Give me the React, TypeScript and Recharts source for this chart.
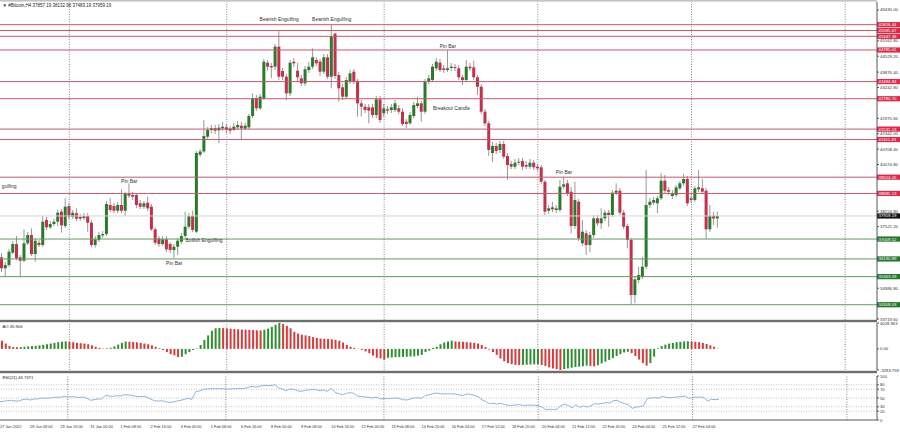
import React from 'react'
import { ComposedChart, Bar, Line, XAxis, YAxis, ReferenceLine, ReferenceDot, Cell } from 'recharts'

// one H4 slot per category, the right part of the window is empty space
const SLOTS = 234
const AXIS_W = 23
const FONT = '"Liberation Sans", Arial, sans-serif'

const dateLabels = [
  '27 Jan 2022', '28 Jan 08:00', '29 Jan 16:00', '31 Jan 00:00', '1 Feb 08:00', '2 Feb 16:00',
  '4 Feb 00:00', '5 Feb 08:00', '6 Feb 16:00', '8 Feb 00:00', '9 Feb 08:00', '10 Feb 16:00',
  '12 Feb 00:00', '13 Feb 08:00', '14 Feb 20:00', '16 Feb 04:00', '17 Feb 12:00', '18 Feb 20:00',
  '20 Feb 04:00', '21 Feb 12:00', '22 Feb 20:00', '24 Feb 04:00', '25 Feb 12:00', '27 Feb 04:00',
]
const labelStep = 8

const open = [
  36258, 35806, 35942, 36448, 36805, 36258, 36118, 36834, 37175, 36394,
  36859, 36764, 37792, 37492, 37628, 37723, 38134, 37546, 38368, 37928,
  38068, 37928, 37874, 37957, 37682, 36764, 36970, 37161, 37216, 38410,
  38368, 38175, 38410, 38175, 38862, 38821, 38821, 38479, 38340, 38505,
  38340, 37410, 37040, 36805, 36998, 36805, 36559, 36694, 36900, 37134,
  37517, 37957, 37311, 40478, 40610, 41219, 41494, 41564, 41480, 41560,
  41605, 41564, 41508, 41604, 41672, 41550, 41604, 42070, 42798, 42386,
  42798, 44262, 44126, 44098, 44921, 43921, 43686, 43004, 44303, 43933,
  43620, 43415, 43962, 44098, 44373, 44303, 43892, 44484, 43686, 45458,
  43756, 43250, 42864, 43481, 43892, 43481, 42592, 42454, 42427, 42427,
  42111, 42757, 42181, 42345, 42317, 42317, 42386, 42248, 41836, 41770,
  42070, 42481, 42592, 42248, 43481, 43551, 44030, 44262, 44030, 43962,
  44044, 44085, 44030, 43662, 43551, 44098, 44071, 43662, 43275, 42248,
  41770, 40548, 40836, 40672, 40919, 40425, 40096, 39986, 40150, 40219,
  40055, 39986, 40150, 39986, 39960, 39368, 38175, 38314, 38204, 38204,
  39163, 39302, 38957, 37546, 38545, 36834, 37245, 36764, 37175, 37862,
  37657, 37862, 38093, 37998, 38915, 38997, 38093, 37546, 36970, 34707,
  35325, 35461, 35872, 38410, 38504, 38479, 38685, 39409, 39026, 38780,
  38821, 39096, 39302, 39479, 38685, 38615, 39055, 39096, 38997, 37410,
  37969, 37857.19,
]
const high = [
  36435, 36065, 36600, 36929, 37134, 36353, 37410, 37299, 37451, 37052,
  36970, 37957, 37916, 37751, 37833, 38204, 38245, 38685, 38492, 38204,
  38273, 38039, 38080, 38080, 37792, 37134, 37299, 37340, 38574, 38685,
  38492, 38533, 39055, 38944, 39302, 38944, 38903, 38615, 38574, 38751,
  38451, 37504, 37134, 37134, 37134, 36888, 36805, 37052, 37257, 38134,
  38080, 38175, 40630, 40713, 41905, 41617, 41700, 41700, 41741, 41823,
  41741, 41659, 41782, 41864, 41823, 41782, 42152, 43004, 42934, 42975,
  44414, 44373, 44250, 45031, 45586, 44044, 43797, 44373, 44455, 44250,
  43756, 44126, 44291, 44854, 44497, 44414, 44620, 44620, 45826, 45484,
  43880, 43386, 43674, 43962, 44003, 43592, 42728, 42564, 42564, 42564,
  42893, 42893, 42564, 42481, 42564, 42728, 42522, 42399, 41947, 42234,
  42646, 42864, 42687, 43592, 43756, 44209, 44455, 44414, 44167, 44785,
  44250, 44209, 44167, 43756, 44373, 44250, 44345, 43756, 43386, 42358,
  41864, 41001, 40960, 41042, 41042, 40548, 40219, 40302, 40343, 40343,
  40219, 40302, 40260, 40096, 40055, 39438, 38410, 38545, 38410, 39438,
  39554, 39438, 39150, 39368, 38656, 37792, 37381, 37299, 37998, 37998,
  38273, 38204, 38204, 39026, 39302, 39108, 38204, 37628, 37052, 35489,
  35872, 36283, 39849, 38697, 38738, 38779, 39713, 39644, 39150, 39026,
  39232, 39396, 39684, 39602, 38821, 39191, 39849, 39467, 39108, 38410,
  38121, 38132.96,
]
const low = [
  35654, 35461, 35860, 36394, 36147, 35461, 36065, 36764, 36312, 36077,
  36682, 36682, 37381, 37422, 37546, 37546, 37270, 37463, 37833, 37833,
  37751, 37751, 37792, 37311, 36682, 36661, 36888, 37052, 37134, 38121,
  38080, 38080, 38080, 37957, 38697, 38615, 38286, 38245, 38245, 38163,
  37340, 36764, 36682, 36723, 36476, 36435, 36217, 36353, 36805, 37052,
  37422, 37299, 37257, 40384, 40548, 41124, 41371, 41330, 40947, 41453,
  41371, 41330, 41453, 41494, 41111, 41494, 41535, 41988, 42276, 42317,
  42728, 43921, 43633, 43962, 43551, 43551, 42728, 42893, 44085, 43468,
  43304, 43304, 43839, 44003, 44126, 43715, 43797, 43592, 43209, 43592,
  42658, 42728, 42769, 43386, 43386, 42041, 42041, 42193, 41770, 41988,
  41988, 41782, 42029, 42152, 42193, 42234, 42152, 41659, 41564, 41700,
  41988, 42399, 41836, 42152, 43386, 43468, 43921, 43880, 43839, 43880,
  43921, 43921, 43551, 43345, 43468, 43921, 43551, 42934, 42152, 41659,
  40425, 40178, 40507, 40548, 40302, 39438, 39890, 39890, 40055, 39849,
  39890, 39890, 39849, 39808, 39273, 37998, 38039, 38121, 38080, 38121,
  39067, 38779, 37245, 37422, 36929, 36723, 36353, 36476, 37052, 37546,
  37422, 37751, 37517, 37916, 38821, 37998, 37422, 36628, 34308, 34366,
  35202, 35366, 35777, 38286, 38410, 38068, 38615, 38903, 38821, 38656,
  38738, 39026, 39191, 38368, 38492, 38533, 38944, 38862, 36998, 37299,
  37587, 37483.19,
]
const close = [
  35806, 35942, 36489, 36805, 36217, 36118, 36834, 37175, 36394, 36941,
  36764, 37723, 37492, 37628, 37723, 38093, 37574, 38340, 37928, 38093,
  37846, 37846, 37957, 37682, 36764, 36998, 37175, 37216, 38451, 38204,
  38175, 38410, 38175, 38862, 38793, 38752, 38410, 38340, 38479, 38273,
  37410, 36859, 36805, 36998, 36587, 36559, 36694, 36941, 37134, 37517,
  37957, 37381, 40548, 40610, 41247, 41494, 41564, 41466, 41590, 41630,
  41494, 41466, 41630, 41700, 41560, 41672, 42070, 42798, 42386, 42864,
  44303, 44098, 44070, 44921, 43686, 43686, 43004, 44262, 44237, 43662,
  43415, 43991, 44098, 44484, 44237, 43892, 44484, 43686, 45332, 43715,
  43209, 42864, 43551, 43825, 43481, 42592, 42454, 42317, 42289, 42111,
  42757, 41905, 42386, 42289, 42427, 42592, 42248, 41741, 41741, 42111,
  42522, 42592, 42248, 43481, 43621, 44098, 44303, 43962, 43962, 44030,
  44098, 44044, 43662, 43551, 44098, 44030, 43662, 43275, 42248, 41770,
  40672, 40836, 40630, 40919, 40396, 40055, 39986, 40150, 40191, 39986,
  39986, 40150, 39960, 39918, 39368, 38134, 38273, 38232, 38273, 39163,
  39259, 38890, 37546, 38615, 37040, 37311, 36764, 37175, 37862, 37657,
  37862, 38093, 37998, 38915, 38997, 38093, 37517, 36970, 34707, 35353,
  35531, 35872, 38410, 38545, 38615, 38685, 39409, 38997, 38957, 38891,
  39136, 39302, 39479, 38479, 38615, 39096, 39136, 38957, 37410, 37969,
  37857, 37959.19,
]

const ao = [
  1272, 830, 442, 277, 249, 277, 332, 387, 442, 470,
  553, 636, 719, 830, 940, 1051, 1134, 1161, 1106, 1051,
  940, 885, 830, 719, 553, 332, 166, 55, 83, 166,
  387, 664, 940, 1134, 1106, 1078, 1023, 940, 830, 719,
  553, 332, 111, -166, -498, -830, -995, -1272, -1217, -830,
  -498, -166, 55, 608, 1383, 2101, 2820, 3207, 3263, 3235,
  3207, 3152, 3097, 3042, 3014, 2986, 2959, 2931, 2903, 2876,
  2986, 3152, 3429, 3760, 4028.963, 3871, 3595, 3207, 2654, 2378,
  2212, 2101, 1991, 1825, 1714, 1604, 1576, 1548, 1493, 1383,
  1272, 995, 608, 332, 166, 28, -166, -387, -664, -1051,
  -1383, -1493, -1659, -1383, -1327, -1300, -1272, -1244, -1217, -1189,
  -1161, -1051, -940, -498, -277, 166, 332, 719, 995, 1161,
  1272, 1161, 1134, 1106, 1051, 995, 940, 830, 608, 277,
  -111, -498, -940, -1493, -1936, -2212, -2378, -2489, -2516, -2489,
  -2461, -2433, -2406, -2389, -2489, -2654, -2876, -3042, -3152, -3283.759,
  -3152, -3042, -2931, -2820, -2765, -2710, -2599, -2654, -2710, -2544,
  -2267, -1991, -1714, -1438, -1106, -830, -553, -442, -664, -1106,
  -1659, -2212, -2599, -2212, -1217, 111, 442, 664, 830, 940,
  1051, 1106, 1161, 1189, 1161, 1106, 1051, 940, 774, 553,
  332, 45.906,
]

const rsi = [
  41.6, 42.4, 43.9, 44.7, 43.1, 43.1, 46.2, 47.7, 45.4, 47.7,
  47.7, 50.0, 49.2, 50.0, 50.7, 52.2, 51.5, 53.8, 52.2, 53.0,
  52.2, 51.5, 52.2, 50.0, 44.7, 46.2, 47.7, 47.7, 56.0, 54.5,
  53.8, 55.3, 54.5, 57.5, 56.8, 56.0, 53.8, 53.0, 53.8, 52.2,
  47.7, 43.9, 43.1, 43.9, 41.6, 40.1, 40.9, 43.1, 44.7, 46.9,
  49.2, 46.9, 64.4, 65.9, 69.7, 70.4, 71.2, 71.2, 71.2, 71.2,
  70.4, 70.4, 71.2, 71.9, 71.2, 71.9, 74.2, 76.5, 75.0, 76.5,
  78.7, 78.0, 78.0, 80.3, 73.4, 70.4, 66.6, 70.4, 69.7, 66.6,
  65.1, 67.4, 68.1, 69.7, 68.9, 66.6, 68.1, 65.1, 71.9, 62.8,
  59.8, 57.5, 60.6, 62.1, 60.6, 54.5, 53.0, 52.2, 51.5, 50.0,
  52.2, 47.7, 49.2, 48.5, 49.2, 50.0, 49.2, 46.2, 45.4, 47.7,
  50.0, 50.7, 49.2, 56.0, 56.8, 59.8, 61.3, 59.8, 59.1, 59.8,
  59.1, 59.1, 56.8, 56.0, 59.1, 58.3, 56.0, 53.0, 46.2, 42.4,
  37.1, 37.8, 36.3, 37.8, 35.6, 33.3, 33.3, 34.1, 34.8, 33.3,
  33.3, 34.1, 33.3, 32.6, 29.5, 23.4, 24.2, 24.2, 24.2, 32.6,
  35.6, 33.3, 27.2, 34.8, 28.7, 31.8, 29.5, 32.6, 37.1, 36.3,
  37.8, 39.4, 38.6, 43.9, 44.7, 40.1, 37.1, 34.1, 26.5, 29.5,
  30.3, 32.6, 49.2, 50.0, 50.7, 50.0, 53.8, 51.5, 50.7, 51.5,
  52.2, 53.0, 54.5, 49.2, 50.7, 52.2, 52.2, 50.7, 43.1, 46.9,
  46.2, 46.7371,
]

const resistance = [45826.44, 45585.67, 45347.38, 44785.01, 43484.84, 42780.70, 41531.13, 41101.43, 39554.05, 38885.13]
const support = [37009.52, 36190.89, 35463.09, 34308.03]
const lastPrice = 37959.19
const priceTicks = [
  46430.0, 45796.4, 45162.8, 44529.2, 43876.4, 43242.8, 42609.2, 41975.6, 41342.0, 40708.4,
  40074.8, 39441.2, 38807.6, 38154.8, 37521.2, 36887.6, 36254.0, 35620.4, 34986.8, 34353.2, 33719.6,
]
const priceDomain = [33680, 46759]
const aoTicks = [4028.963, 0, -3283.759]
const rsiTicks = [100, 80, 70, 50, 30, 20, 0]
const rsiLevels = [80, 70, 50, 30, 20]
const gridIdx = [18, 60, 102, 143, 184, 225]

const notes = [
  { i: 74, price: 46060, text: 'Bearish Engulfing', anchor: 'middle' },
  { i: 88, price: 46060, text: 'Bearish Engulfing', anchor: 'middle' },
  { i: 119, price: 44949, text: 'Pin Bar', anchor: 'middle' },
  { i: 115, price: 42399, text: 'Breakout Candle', anchor: 'start' },
  { i: 34, price: 39368, text: 'Pin Bar', anchor: 'middle' },
  { i: 49, price: 36970, text: 'Bullish Engulfing', anchor: 'start' },
  { i: 46, price: 36012, text: 'Pin Bar', anchor: 'middle' },
  { i: 150, price: 39755, text: 'Pin Bar', anchor: 'middle' },
  { i: 0, price: 39191, text: 'gulfing', anchor: 'start' },
]

const UP = '#2b7a2b'
const DOWN = '#c2304c'
const RES_LINE = '#c9576d'
const RES_TAG = '#dc2a48'
const SUP_LINE = '#5e9e5e'
const SUP_TAG = '#23782a'

const rows = Array.from({ length: SLOTS }, (_, i) =>
  i < open.length
    ? { i, open: open[i], high: high[i], low: low[i], close: close[i], hl: [low[i], high[i]], ao: ao[i], rsi: rsi[i] }
    : { i }
)
const tickIdx = dateLabels.map((_, k) => k * labelStep)

// price ticks that sit under a level tag are covered in the terminal, leave them out
const pxPerPrice = 318 / (priceDomain[1] - priceDomain[0])
const tags = [...resistance, ...support, lastPrice]
const shownTicks = priceTicks.filter((t) => tags.every((v) => Math.abs(v - t) * pxPerPrice > 4.2))

function Candle(props: any) {
  const { x, y, width, height, payload } = props
  if (payload == null || payload.open == null) return null
  const { open: o, high: h, low: l, close: c } = payload
  const top = Math.min(y, y + height)
  const span = Math.abs(height)
  const py = (v: number) => top + ((h - v) / (h - l || 1)) * span
  const bTop = py(Math.max(o, c))
  const bBot = py(Math.min(o, c))
  const cx = x + width / 2
  return (
    <g>
      <line x1={cx} x2={cx} y1={top} y2={top + span} stroke="#8c8c8c" strokeWidth={0.9} />
      <rect x={x} y={bTop} width={width} height={Math.max(bBot - bTop, 0.9)} fill={c >= o ? UP : DOWN} />
    </g>
  )
}

const PriceTick = (props: any) => {
  const { x, y, payload } = props
  return (
    <text x={x} y={y} dy={1.5} fontSize={4.3} fill="#333" fontFamily={FONT}>
      {Number(payload.value).toFixed(2)}
    </text>
  )
}

const makeTag = (value: number, bg: string) => (props: any) => {
  const vb = props.viewBox || {}
  const x = (vb.x || 0) + (vb.width || 0)
  const y = vb.y || 0
  return (
    <g>
      <rect x={x} y={y - 2.6} width={AXIS_W} height={5.2} fill={bg} />
      <text x={x + 1.5} y={y + 1.5} fontSize={4.3} fill="#fff" fontFamily={FONT}>
        {value.toFixed(2)}
      </text>
    </g>
  )
}

const makeNote = (text: string, anchor: string) => (props: any) => {
  const vb = props.viewBox || {}
  return (
    <text x={vb.x} y={(vb.y || 0) + 1.7} fontSize={5} fill="#333" textAnchor={anchor as any} fontFamily={FONT}>
      {text}
    </text>
  )
}

const SmallTick = (props: any) => {
  const { x, y, payload, fmt } = props
  return (
    <text x={x} y={y} dy={1.5} fontSize={4.2} fill="#333" fontFamily={FONT}>
      {fmt ? fmt(payload.value) : payload.value}
    </text>
  )
}

const DateTick = (props: any) => {
  const { x, y, payload } = props
  const k = tickIdx.indexOf(payload.value)
  return (
    <text x={x} y={y + 7.5} fontSize={3.9} fill="#333" fontFamily={FONT}>
      {dateLabels[k]}
    </text>
  )
}

export default function App() {
  return (
    <div style={{ position: 'absolute', left: 0, top: 0, width: 900, height: 433, background: '#fff', overflow: 'hidden' }}>
      <div style={{ position: 'absolute', left: 0, top: 0 }}>
        <ComposedChart width={900} height={321} data={rows} margin={{ top: 2, right: 0, bottom: 1, left: 0 }}>
          <XAxis dataKey="i" type="category" hide />
          <YAxis
            orientation="right"
            type="number"
            domain={priceDomain}
            allowDataOverflow
            ticks={shownTicks}
            interval={0}
            width={AXIS_W}
            tickSize={2}
            tickMargin={1}
            tickLine={{ stroke: '#555' }}
            axisLine={{ stroke: '#555' }}
            tick={<PriceTick />}
          />
          {gridIdx.map((g) => (
            <ReferenceLine key={'g' + g} x={g} stroke="#666" strokeWidth={0.8} strokeDasharray="1 1.5" />
          ))}
          <ReferenceLine y={lastPrice} stroke="#d4d4d4" strokeWidth={1} label={makeTag(lastPrice, '#111')} />
          {resistance.map((v) => (
            <ReferenceLine key={'r' + v} y={v} stroke={RES_LINE} strokeWidth={1} label={makeTag(v, RES_TAG)} />
          ))}
          {support.map((v) => (
            <ReferenceLine key={'s' + v} y={v} stroke={SUP_LINE} strokeWidth={1} label={makeTag(v, SUP_TAG)} />
          ))}
          <Bar dataKey="hl" barSize={3} shape={<Candle />} isAnimationActive={false} />
          {notes.map((n, k) => (
            <ReferenceDot key={'n' + k} x={n.i} y={n.price} r={0} fill="none" stroke="none" label={makeNote(n.text, n.anchor)} />
          ))}
        </ComposedChart>
      </div>

      <div style={{ position: 'absolute', left: 0, top: 321 }}>
        <ComposedChart width={900} height={51} data={rows} margin={{ top: 2, right: 0, bottom: 2, left: 0 }}>
          <XAxis dataKey="i" type="category" hide />
          <YAxis
            orientation="right"
            type="number"
            domain={[aoTicks[2], aoTicks[0]]}
            allowDataOverflow
            ticks={aoTicks}
            interval={0}
            width={AXIS_W}
            tickSize={2}
            tickMargin={1}
            tickLine={{ stroke: '#555' }}
            axisLine={{ stroke: '#555' }}
            tick={<SmallTick fmt={(v: number) => (v === 0 ? '0.00' : String(v))} />}
          />
          {gridIdx.map((g) => (
            <ReferenceLine key={'g' + g} x={g} stroke="#666" strokeWidth={0.8} strokeDasharray="1 1.5" />
          ))}
          <Bar dataKey="ao" barSize={2} isAnimationActive={false}>
            {rows.map((r: any, i) => (
              <Cell key={i} fill={i > 0 && r.ao > (rows[i - 1] as any).ao ? '#2f8f2f' : '#d63a3a'} />
            ))}
          </Bar>
        </ComposedChart>
      </div>

      <div style={{ position: 'absolute', left: 0, top: 373 }}>
        <ComposedChart width={900} height={60} data={rows} margin={{ top: 3, right: 0, bottom: 0, left: 0 }}>
          <XAxis
            dataKey="i"
            type="category"
            height={13}
            ticks={tickIdx}
            interval={0}
            tickSize={0}
            tickMargin={0}
            tickLine={false}
            axisLine={{ stroke: '#555' }}
            tick={<DateTick />}
          />
          <YAxis
            orientation="right"
            type="number"
            domain={[0, 100]}
            ticks={rsiTicks}
            interval={0}
            width={AXIS_W}
            tickSize={2}
            tickMargin={1}
            tickLine={{ stroke: '#555' }}
            axisLine={{ stroke: '#555' }}
            tick={<SmallTick />}
          />
          {rsiLevels.map((v) => (
            <ReferenceLine key={'l' + v} y={v} stroke="#b5b5b5" strokeWidth={0.8} strokeDasharray="1 1.5" />
          ))}
          {gridIdx.map((g) => (
            <ReferenceLine key={'g' + g} x={g} stroke="#666" strokeWidth={0.8} strokeDasharray="1 1.5" />
          ))}
          <Line dataKey="rsi" type="linear" stroke="#8db6dc" strokeWidth={1} dot={false} isAnimationActive={false} />
        </ComposedChart>
      </div>

      <svg width={900} height={433} style={{ position: 'absolute', left: 0, top: 0, pointerEvents: 'none' }}>
        <rect x={0} y={0.5} width={877} height={0.8} fill="#888" />
        <rect x={0} y={319.8} width={877} height={2.4} fill="#6e6e6e" />
        <rect x={0} y={370.8} width={877} height={2.4} fill="#6e6e6e" />
        <text x={2.5} y={6.5} fontSize={4.5} fill="#222" fontFamily={FONT}>
          {'\u25BC  #Bitcoin,H4  37857.19 38132.96 37483.19 37959.19'}
        </text>
        <text x={2.5} y={327.8} fontSize={4.2} fill="#222" fontFamily={FONT}>AO 45.906</text>
        <text x={2.5} y={378.8} fontSize={4.2} fill="#222" fontFamily={FONT}>RSI(21) 46.7371</text>
      </svg>
    </div>
  )
}
